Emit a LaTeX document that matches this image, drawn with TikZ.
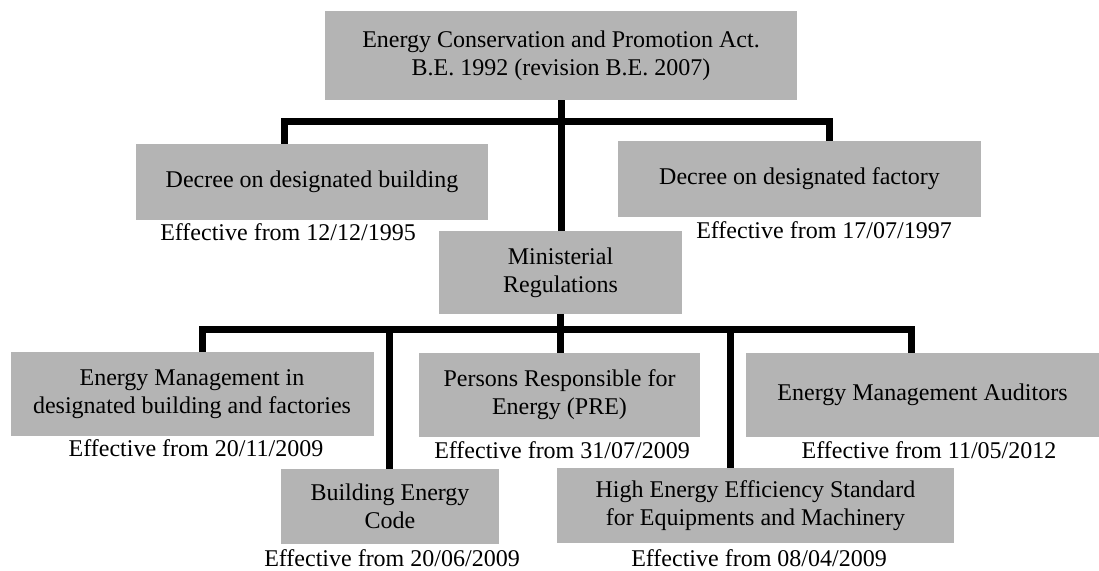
\documentclass[tikz,border=0pt]{standalone}
\usepackage{fontspec}
\setmainfont{Liberation Serif}
\definecolor{boxgray}{RGB}{180,180,180}
\begin{document}
\begin{tikzpicture}[x=1pt,y=-1pt,
  box/.style={fill=boxgray,draw=none,inner sep=0pt,align=center,
    font=\fontsize{24}{28}\selectfont},
  eff/.style={inner sep=0pt,font=\fontsize{24}{28}\selectfont},
  conn/.style={line width=7pt,draw=black,line join=miter,line cap=butt}]
\useasboundingbox (0,0) rectangle (1099,570);
% boxes
\node[box,minimum width=472pt,minimum height=89pt] (top) at (561,55.5)
  {Energy Conservation and Promotion Act.\\B.E. 1992 (revision B.E. 2007)};
\node[box,minimum width=352pt,minimum height=76pt] (bld) at (312,182)
  {Decree on designated building};
\node[box,minimum width=363pt,minimum height=76pt] (fac) at (799.5,179)
  {Decree on designated factory};
\node[box,minimum width=243pt,minimum height=83pt] (min) at (560.5,272.5)
  {Ministerial\\Regulations};
\node[box,minimum width=363pt,minimum height=84pt] (em) at (192,394)
  {Energy Management in\\designated building and factories};
\node[box,minimum width=281pt,minimum height=84pt] (pre) at (559.5,395)
  {Persons Responsible for\\Energy (PRE)};
\node[box,minimum width=353pt,minimum height=84pt] (ema) at (922.5,395)
  {Energy Management Auditors};
\node[box,minimum width=218pt,minimum height=75pt] (bec) at (390,506.5)
  {Building Energy\\Code};
\node[box,minimum width=397pt,minimum height=75pt] (hees) at (755.5,505.5)
  {High Energy Efficiency Standard\\for Equipments and Machinery};
% effective dates
\node[eff] (e1) at (288,232) {Effective from 12/12/1995};
\node[eff] (e2) at (824,230) {Effective from 17/07/1997};
\node[eff] (e3) at (196,448) {Effective from 20/11/2009};
\node[eff] (e4) at (562,450) {Effective from 31/07/2009};
\node[eff] (e5) at (929,450) {Effective from 11/05/2012};
\node[eff] (e6) at (392,558) {Effective from 20/06/2009};
\node[eff] (e7) at (759,558) {Effective from 08/04/2009};
% junction coordinates
\coordinate (b1l) at (284,121.5);
\coordinate (b1r) at (829,121.5);
\coordinate (b2a) at (202,329);
\coordinate (b2b) at (389,329);
\coordinate (b2c) at (730,329);
\coordinate (b2d) at (911,329);
% connectors
\draw[conn] (top.south) -- (min.north -| top.south);
\draw[conn] (bld.north -| b1l) -- (b1l) -- (b1r) -- (fac.north -| b1r);
\draw[conn] (min.south) -- (pre.north -| min.south);
\draw[conn] (em.north -| b2a) -- (b2a) -- (b2d) -- (ema.north -| b2d);
\draw[conn] (b2b) -- (bec.north -| b2b);
\draw[conn] (b2c) -- (hees.north -| b2c);
\end{tikzpicture}
\end{document}
